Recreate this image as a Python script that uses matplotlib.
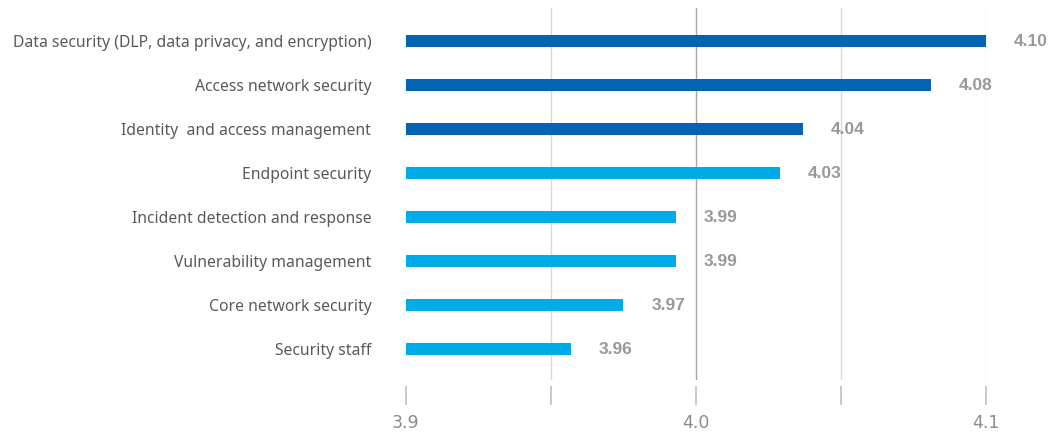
import matplotlib
matplotlib.use('Agg')
import matplotlib.pyplot as plt

categories = [
    'Data security (DLP, data privacy, and encryption)',
    'Access network security',
    'Identity  and access management',
    'Endpoint security',
    'Incident detection and response',
    'Vulnerability management',
    'Core network security',
    'Security staff',
]
scores = [4.10, 4.081, 4.037, 4.029, 3.993, 3.993, 3.975, 3.957]
labels = ['4.10', '4.08', '4.04', '4.03', '3.99', '3.99', '3.97', '3.96']
top_group = [True, True, True, False, False, False, False, False]

dark_blue = '#0563B4'
light_blue = '#00ACE8'

fig = plt.figure(figsize=(10.57, 4.36), dpi=100)
ax = fig.add_axes([0.3841, 0.128, 0.5487, 0.8537])

n = len(categories)
ypos = [n - 1 - i for i in range(n)]
colors = [dark_blue if t else light_blue for t in top_group]

# gridlines first, bars on top
for gx in [3.95, 4.05, 4.1]:
    ax.axvline(gx, color='#D9D9D9', lw=1.0, zorder=0)
ax.axvline(4.0, color='#A6A6A6', lw=1.0, zorder=0)

ax.barh(ypos, [s - 3.9 for s in scores], left=3.9, height=0.27, color=colors, zorder=2)

for y, s, lab in zip(ypos, scores, labels):
    ax.annotate(lab, (s, y), xytext=(20, 0), textcoords='offset points',
                va='center', ha='left', fontsize=12.5, fontweight='bold',
                color='#999999', family='Liberation Sans', annotation_clip=False)

ax.set_xlim(3.9, 4.1)
ax.set_ylim(-0.7, 7.75)
ax.set_yticks(ypos)
ax.set_yticklabels(categories, fontsize=11.3, color='#595959', family='Noto Sans')
ax.tick_params(axis='y', length=0, pad=25)

ax.set_xticks([3.9, 3.95, 4.0, 4.05, 4.1])
ax.set_xticklabels(['3.9', '', '4.0', '', '4.1'])
ax.tick_params(axis='x', direction='out', length=14, width=1.2, color='#BFBFBF',
               labelcolor='#8C8C8C', labelsize=12.5, pad=6)
for t in ax.get_xticklabels():
    t.set_family('Noto Sans')
    t.set_fontweight('medium')
ax.spines['bottom'].set_position(('outward', 4))

for sp in ax.spines.values():
    sp.set_visible(False)

fig.savefig('out.png', dpi=100)
